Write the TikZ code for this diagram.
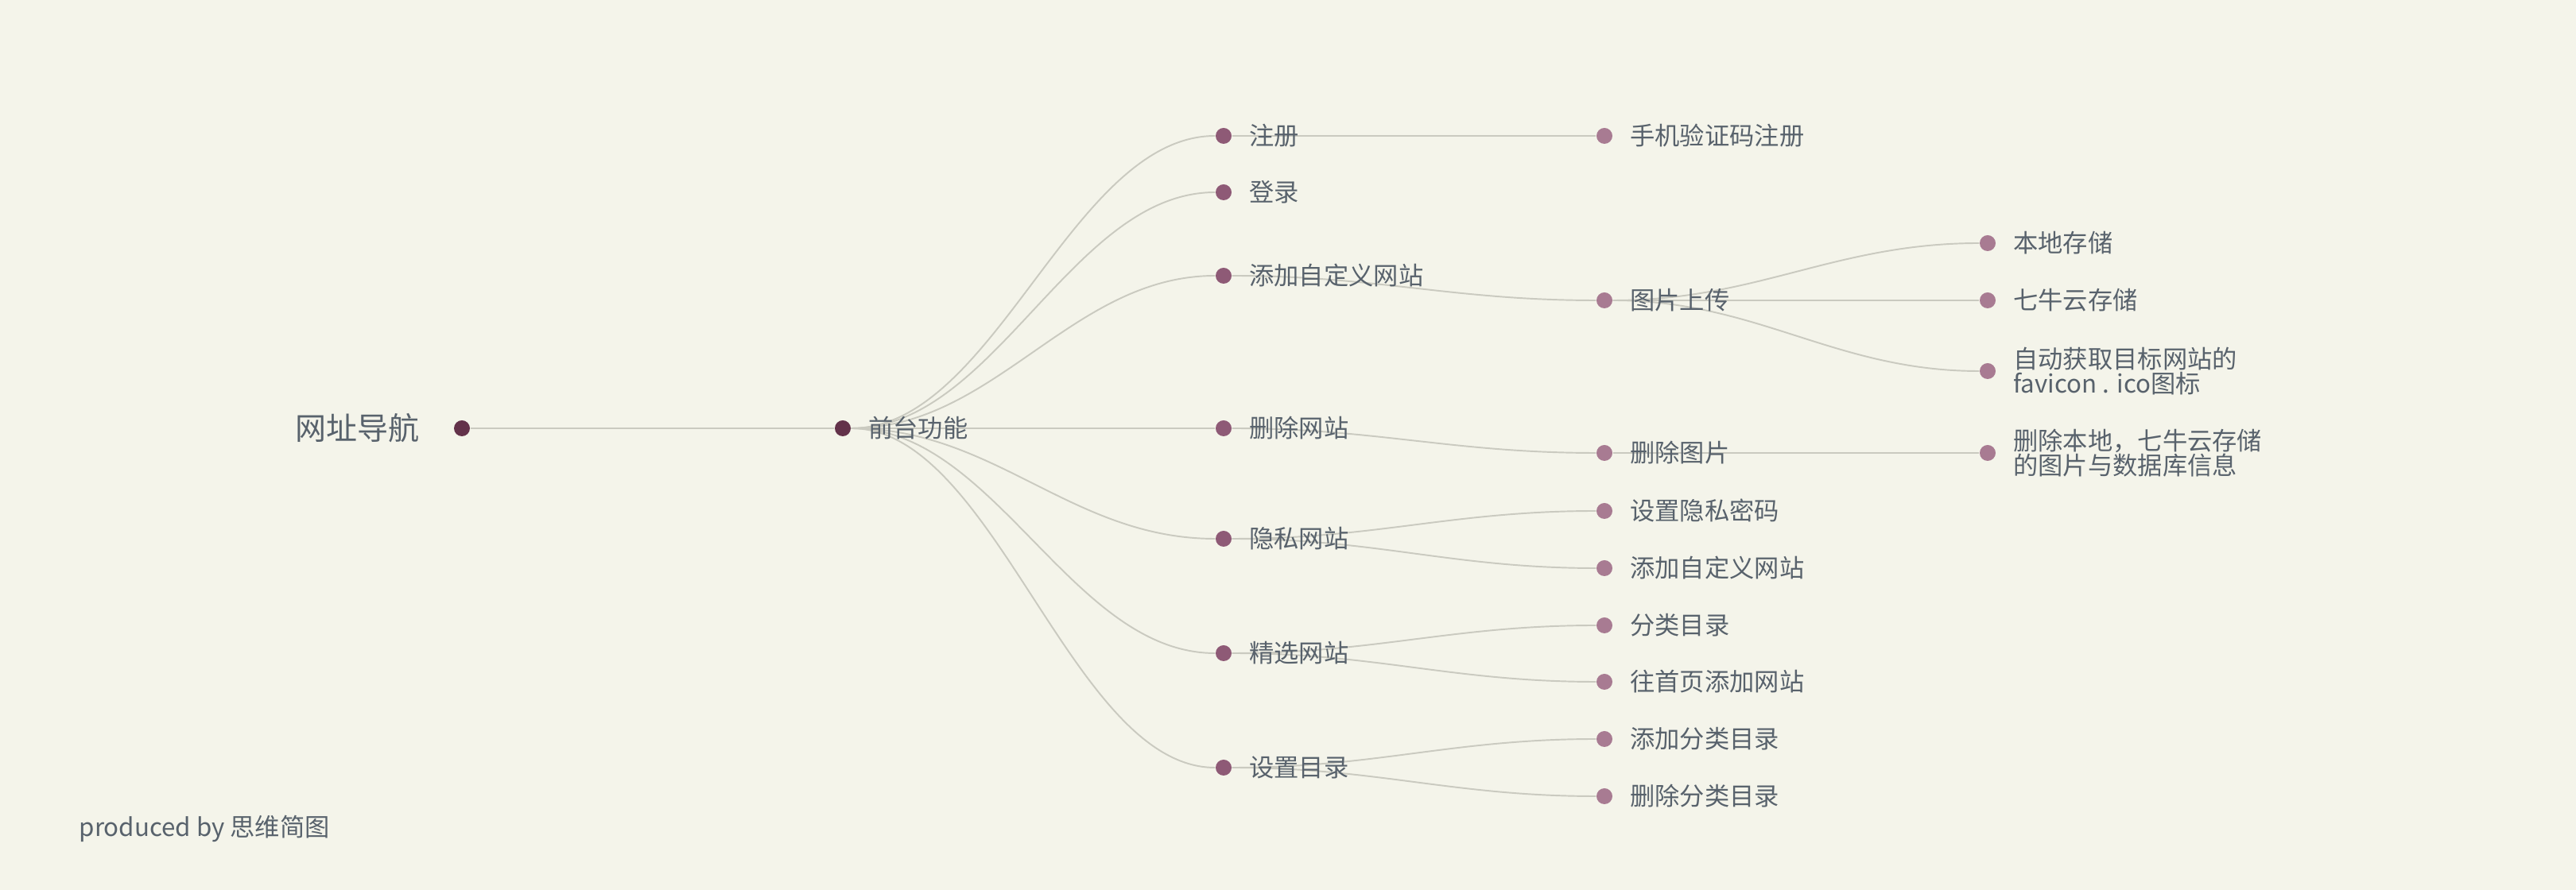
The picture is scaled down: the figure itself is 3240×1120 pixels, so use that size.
\documentclass[tikz,border=0pt]{standalone}
\usepackage{fontspec}
\setmainfont{Noto Sans CJK SC}
\usetikzlibrary{positioning,backgrounds,calc}
\definecolor{paper}{HTML}{F4F4EA}
\definecolor{ink}{HTML}{58626C}
\definecolor{wire}{HTML}{CACAC0}
\definecolor{plum0}{HTML}{63324A}
\definecolor{plum1}{HTML}{8E5A76}
\definecolor{plum2}{HTML}{A87B92}
% curved branch, flat at both ends
\newcommand\twig[2]{\draw[link] let \p1=(#1.center), \p2=(#2.center) in
  (#1) .. controls ({0.6*\x1+0.4*\x2},\y1) and ({0.4*\x1+0.6*\x2},\y2) .. (#2);}

\begin{document}
\begin{tikzpicture}[x=0.1mm,y=-0.1mm,node distance=2.1mm,
  dot/.style={circle,inner sep=0pt,minimum size=2mm},
  txt/.style={inner sep=0pt,text=ink,align=left,font=\fontsize{8.9}{9}\selectfont},
  link/.style={draw=wire,line width=0.55pt}]
  \useasboundingbox (0,0) rectangle (3240,1120);
  % root and first level
  \node[dot,fill=plum0] (r) at (581,539) {};
  \node[txt,left=4.2mm of r,font=\fontsize{11.1}{12}\selectfont] (tr) {网址导航};
  \node[dot,fill=plum0] (q) at (1060,539) {};
  \node[txt,right=of q] (tq) {前台功能};
  % second level
  \node[dot,fill=plum1] (a1) at (1539,171) {};
  \node[dot,fill=plum1] (a2) at (1539,242) {};
  \node[dot,fill=plum1] (a3) at (1539,347) {};
  \node[dot,fill=plum1] (a4) at (1539,539) {};
  \node[dot,fill=plum1] (a5) at (1539,678) {};
  \node[dot,fill=plum1] (a6) at (1539,822) {};
  \node[dot,fill=plum1] (a7) at (1539,966) {};
  \node[txt,right=of a1] (ta1) {注册};
  \node[txt,right=of a2] (ta2) {登录};
  \node[txt,right=of a3] (ta3) {添加自定义网站};
  \node[txt,right=of a4] (ta4) {删除网站};
  \node[txt,right=of a5] (ta5) {隐私网站};
  \node[txt,right=of a6] (ta6) {精选网站};
  \node[txt,right=of a7] (ta7) {设置目录};
  % third level
  \node[dot,fill=plum2] (b1) at (2018,171) {};
  \node[dot,fill=plum2] (b2) at (2018,378) {};
  \node[dot,fill=plum2] (b3) at (2018,570) {};
  \node[dot,fill=plum2] (b4) at (2018,643) {};
  \node[dot,fill=plum2] (b5) at (2018,715) {};
  \node[dot,fill=plum2] (b6) at (2018,787) {};
  \node[dot,fill=plum2] (b7) at (2018,858) {};
  \node[dot,fill=plum2] (b8) at (2018,930) {};
  \node[dot,fill=plum2] (b9) at (2018,1002) {};
  \node[txt,right=of b1] (tb1) {手机验证码注册};
  \node[txt,right=of b2] (tb2) {图片上传};
  \node[txt,right=of b3] (tb3) {删除图片};
  \node[txt,right=of b4] (tb4) {设置隐私密码};
  \node[txt,right=of b5] (tb5) {添加自定义网站};
  \node[txt,right=of b6] (tb6) {分类目录};
  \node[txt,right=of b7] (tb7) {往首页添加网站};
  \node[txt,right=of b8] (tb8) {添加分类目录};
  \node[txt,right=of b9] (tb9) {删除分类目录};
  % fourth level
  \node[dot,fill=plum2] (c1) at (2500,306) {};
  \node[dot,fill=plum2] (c2) at (2500,378) {};
  \node[dot,fill=plum2] (c3) at (2500,467) {};
  \node[dot,fill=plum2] (c4) at (2500,570) {};
  \node[txt,right=of c1] (tc1) {本地存储};
  \node[txt,right=of c2] (tc2) {七牛云存储};
  \node[txt,right=of c3] (tc3) {自动获取目标网站的\\favicon . ico图标};
  \node[txt,right=of c4] (tc4) {删除本地，七牛云存储\\的图片与数据库信息};
  \node[txt,anchor=west] (mark) at (99,1043) {produced by 思维简图};
  % branches behind everything
  \begin{scope}[on background layer]
    \fill[paper] (0,0) rectangle (3240,1120);
    \draw[link,line width=0.8pt] (r) -- (q);
    \foreach \a/\b in {q/a1,q/a2,q/a3,q/a4,q/a5,q/a6,q/a7,
                       a1/b1,a3/b2,a4/b3,a5/b4,a5/b5,a6/b6,a6/b7,a7/b8,a7/b9,
                       b2/c1,b2/c2,b2/c3,b3/c4}
      \twig\a\b;
  \end{scope}
\end{tikzpicture}
\end{document}
